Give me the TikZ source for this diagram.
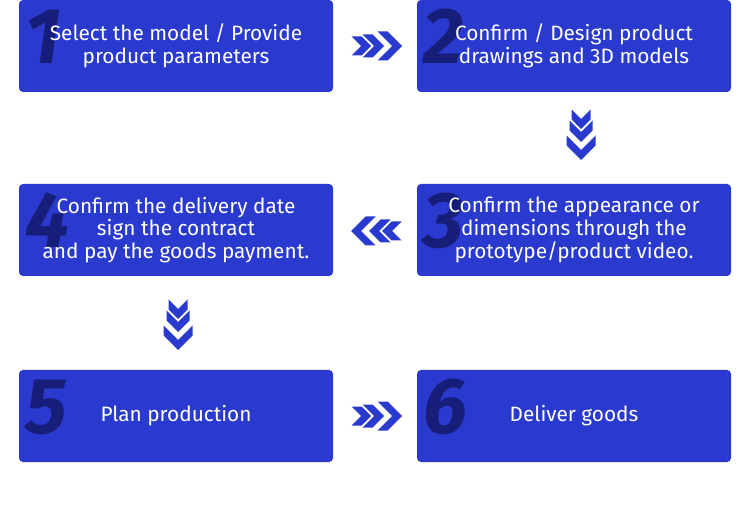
\documentclass[tikz,border=0pt]{standalone}
\usepackage{fontspec}
\setmainfont{Fira Sans}
\definecolor{stepblue}{RGB}{42,58,207}
\definecolor{numblue}{RGB}{22,30,122}
\tikzset{
  stepbox/.style={rectangle, rounded corners=4pt, fill=stepblue, minimum width=314pt, minimum height=92pt, inner sep=0pt},
  stepnum/.style={anchor=base west, inner sep=0pt, text=numblue, font=\fontsize{79}{79}\selectfont\bfseries\itshape},
  steptext/.style={text=white, align=center, inner sep=0pt, font=\fontsize{20.8}{22.8}\selectfont},
  chevrons/.pic={
    \foreach \tip/\hh in {-5.5/9.5, 7.5/11.5, 25.5/14.5}
      \fill[stepblue] (\tip,0) -- ++(-\hh,\hh) -- ++(-10,0) -- ++(\hh,-\hh) -- ++(-\hh,-\hh) -- ++(10,0) -- cycle;
  }
}
\begin{document}
\begin{tikzpicture}[x=1pt,y=-1pt]
    \useasboundingbox (0,0) rectangle (750,529);

    % step boxes
    \node[stepbox] (box1) at (176,46) {};
    \node[stepbox] (box2) at (574,46) {};
    \node[stepbox] (box3) at (574,230) {};
    \node[stepbox] (box4) at (176,230) {};
    \node[stepbox] (box5) at (176,416) {};
    \node[stepbox] (box6) at (574,416) {};

    % big numbers behind the texts
    \foreach \n in {1,...,6} \node[stepnum] (num\n) at ([shift={(6,64)}]box\n.north west) {\n};

    % step texts
    \node[steptext] (text1) at (box1) {Select the model / Provide\\product parameters};
    \node[steptext] (text2) at (box2) {Confirm / Design product\\drawings and 3D models};
    \node[steptext] (text3) at (box3) {Confirm the appearance or\\dimensions through the\\prototype/product video.};
    \node[steptext] (text4) at (box4) {Confirm the delivery date\\sign the contract\\and pay the goods payment.};
    \node[steptext] (text5) at (box5) {Plan production};
    \node[steptext] (text6) at (box6) {Deliver goods};

    % chevrons between the steps
    \pic at (376.5,46) {chevrons};
    \pic[rotate=-90] at (581,134.5) {chevrons};
    \pic[rotate=180] at (376.5,231) {chevrons};
    \pic[rotate=-90] at (178,324.5) {chevrons};
    \pic at (376.5,416) {chevrons};
\end{tikzpicture}
\end{document}
